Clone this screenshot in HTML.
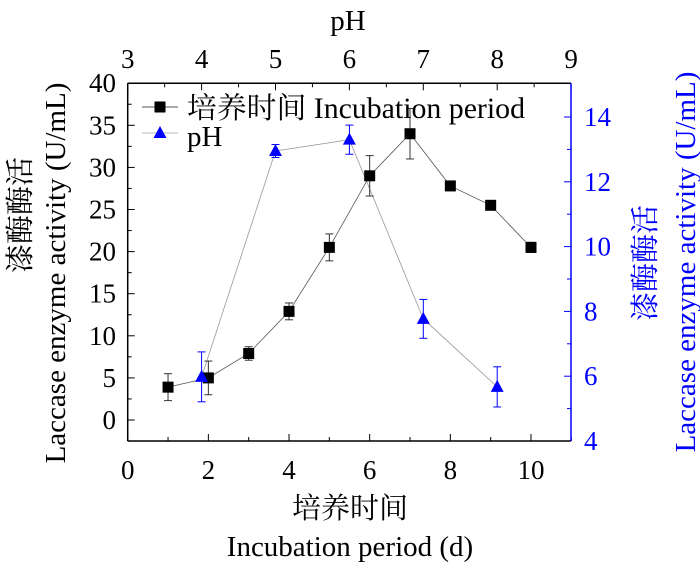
<!DOCTYPE html>
<html><head><meta charset="utf-8"><style>
html,body{margin:0;padding:0;background:#fff;}
svg{display:block;}
text{font-family:"Liberation Serif","Noto Serif CJK SC","Noto Sans CJK SC",serif;}
</style></head><body>
<svg width="700" height="565" viewBox="0 0 700 565" xmlns="http://www.w3.org/2000/svg">
<g id="g"></g>
</svg>
<script>
(function(){
const NS="http://www.w3.org/2000/svg",g=document.getElementById('g');
function el(t,a,txt){const e=document.createElementNS(NS,t);for(const k in a)e.setAttribute(k,a[k]);if(txt!=null)e.textContent=txt;g.appendChild(e);return e;}
const L=127.7,R=571,T=83.3,B=441,FS=27,LS=29;
const X=v=>L+v*40.33, Y=v=>420-v*8.42, YR=v=>441-(v-4)*32.4, XP=v=>L+(v-3)*73.9;
for(let i=0;i<=11;i++){el('line',{x1:X(i),x2:X(i),y1:B,y2:B-(i%2?4:7),stroke:'#000','stroke-width':1});}
for(let i=0;i<=10;i+=2)el('text',{x:X(i),y:479,'font-size':FS,'text-anchor':'middle'},i);
for(let i=3;i<=9;i++){el('line',{x1:XP(i),x2:XP(i),y1:T,y2:T+7,stroke:'#000'});el('text',{x:XP(i),y:68,'font-size':FS,'text-anchor':'middle'},i);}
for(let i=3.5;i<9;i++)el('line',{x1:XP(i),x2:XP(i),y1:T,y2:T+4,stroke:'#000'});
for(let v=0;v<=40;v+=5){el('line',{x1:L,x2:L+7,y1:Y(v),y2:Y(v),stroke:'#000'});el('text',{x:116,y:Y(v)+9,'font-size':FS,'text-anchor':'end'},v);}
for(let v=-2.5;v<40;v+=5)el('line',{x1:L,x2:L+4,y1:Y(v),y2:Y(v),stroke:'#000'});
for(let v=4;v<=14;v+=2){el('line',{x1:R,x2:R-7,y1:YR(v),y2:YR(v),stroke:'#00f'});el('text',{x:584,y:YR(v)+9,'font-size':FS,fill:'#00f'},v);}
for(let v=5;v<15;v+=2)el('line',{x1:R,x2:R-4,y1:YR(v),y2:YR(v),stroke:'#00f'});
el('line',{x1:L,x2:R,y1:T,y2:T,stroke:'#000','stroke-width':1.5});
el('line',{x1:L,x2:R,y1:B,y2:B,stroke:'#000','stroke-width':1.5});
el('line',{x1:L,x2:L,y1:T,y2:B,stroke:'#000','stroke-width':1.5});
el('line',{x1:R,x2:R,y1:T,y2:B,stroke:'#00f','stroke-width':1.5});
const ph=[[4,5.98,0.77],[5,12.95,0.2],[6,13.3,0.45],[7,7.77,0.6],[8,5.67,0.62]];
el('polyline',{points:ph.map(p=>XP(p[0])+','+YR(p[1])).join(' '),fill:'none',stroke:'#999','stroke-width':0.8});
ph.forEach(p=>{const x=XP(p[0]);el('line',{x1:x,x2:x,y1:YR(p[1]-p[2]),y2:YR(p[1]+p[2]),stroke:'#00f'});
[p[1]-p[2],p[1]+p[2]].forEach(v=>el('line',{x1:x-4,x2:x+4,y1:YR(v),y2:YR(v),stroke:'#00f'}));});
const d=[[1,3.9,1.6],[2,5,2],[3,7.9,0.8],[4,12.9,1],[5,20.5,1.6],[6,29,2.4],[7,34,3],[8,27.8,0.3],[9,25.5,0.5],[10,20.5,0.6]];
el('polyline',{points:d.map(p=>X(p[0])+','+Y(p[1])).join(' '),fill:'none',stroke:'#555','stroke-width':0.8});
d.forEach(p=>{const x=X(p[0]);el('line',{x1:x,x2:x,y1:Y(p[1]-p[2]),y2:Y(p[1]+p[2]),stroke:'#333'});
[p[1]-p[2],p[1]+p[2]].forEach(v=>el('line',{x1:x-4,x2:x+4,y1:Y(v),y2:Y(v),stroke:'#333'}));
el('rect',{x:x-5.5,y:Y(p[1])-5.5,width:11,height:11,fill:'#000'});});
ph.forEach(p=>{const x=XP(p[0]),y=YR(p[1]);el('polygon',{points:`${x},${y-7} ${x-6.5},${y+5} ${x+6.5},${y+5}`,fill:'#00f'});});
el('line',{x1:142,x2:178,y1:107,y2:107,stroke:'#555'});
el('rect',{x:154.5,y:101.5,width:11,height:11,fill:'#000'});
el('text',{x:187,y:118,'font-size':29.5,textLength:338,lengthAdjust:'spacingAndGlyphs'},'培养时间 Incubation period');
el('line',{x1:142,x2:178,y1:133,y2:133,stroke:'#bbb'});
el('polygon',{points:'160,126 153.5,138 166.5,138',fill:'#00f'});
el('text',{x:187,y:146,'font-size':LS},'pH');
el('text',{x:348,y:30,'font-size':LS,'text-anchor':'middle'},'pH');
el('text',{x:350,y:518,'font-size':LS,'text-anchor':'middle'},'培养时间');
el('text',{x:350,y:556,'font-size':LS,'text-anchor':'middle'},'Incubation period (d)');
el('text',{x:0,y:0,'font-size':LS,'text-anchor':'middle',transform:'translate(30,215) rotate(-90)'},'漆酶酶活');
el('text',{x:0,y:0,'font-size':LS,'text-anchor':'middle',transform:'translate(65,273) rotate(-90)'},'Laccase enzyme activity (U/mL)');
el('text',{x:0,y:0,'font-size':LS,'text-anchor':'middle',fill:'#00f',transform:'translate(655,263) rotate(-90)'},'漆酶酶活');
el('text',{x:0,y:0,'font-size':LS,'text-anchor':'middle',fill:'#00f',transform:'translate(695,262) rotate(-90)'},'Laccase enzyme activity (U/mL)');
})();
</script>
</body></html>
